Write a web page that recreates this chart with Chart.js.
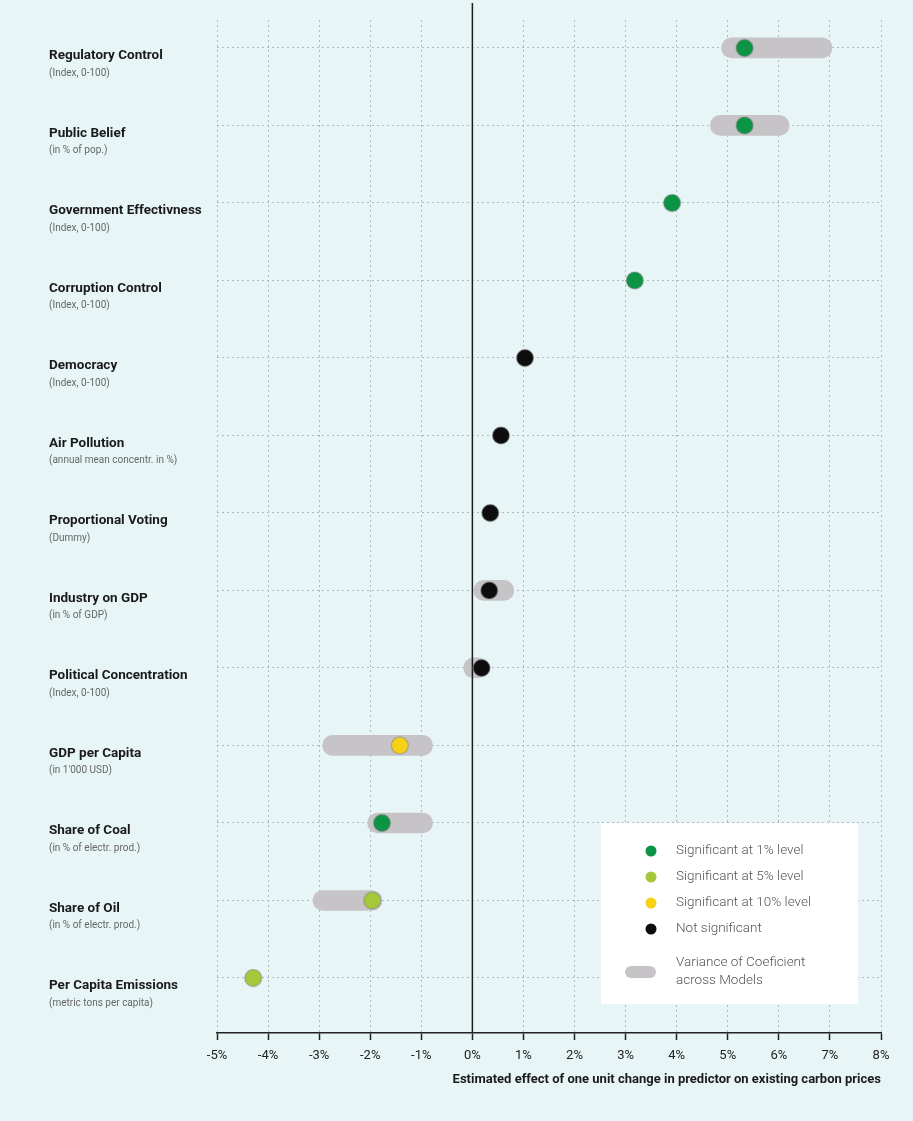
<!DOCTYPE html>
<html>
<head>
<meta charset="utf-8">
<script src="https://cdn.jsdelivr.net/npm/chart.js@4.4.1/dist/chart.umd.min.js"></script>
<style>
  html, body { margin: 0; padding: 0; background: #e8f5f7; }
  #wrap { width: 913px; height: 1121px; position: relative; }
</style>
</head>
<body>
<div id="wrap"><canvas id="coefChart"></canvas></div>
<script>
// Predictors, top to bottom
const categories = [
    'Regulatory Control', 'Public Belief', 'Government Effectivness', 'Corruption Control',
    'Democracy', 'Air Pollution', 'Proportional Voting', 'Industry on GDP',
    'Political Concentration', 'GDP per Capita', 'Share of Coal', 'Share of Oil',
    'Per Capita Emissions'
];
const units = [
    '(Index, 0-100)', '(in % of pop.)', '(Index, 0-100)', '(Index, 0-100)',
    '(Index, 0-100)', '(annual mean concentr. in %)', '(Dummy)', '(in % of GDP)',
    '(Index, 0-100)', "(in 1'000 USD)", '(in % of electr. prod.)', '(in % of electr. prod.)',
    '(metric tons per capita)'
];
// Estimated effect (%), and the spread of the coefficient across models
const coefficients = [5.33, 5.33, 3.91, 3.18, 1.03, 0.56, 0.35, 0.33, 0.18, -1.42, -1.77, -1.96, -4.29];
const rangeLow  = [4.88, 4.66, null, null, null, null, null, 0.03, -0.17, -2.93, -2.05, -3.12, null];
const rangeHigh = [7.04, 6.20, null, null, null, null, null, 0.81,  0.30, -0.78, -0.78, -1.77, null];
const significance = ['1%', '1%', '1%', '1%', 'ns', 'ns', 'ns', 'ns', 'ns', '10%', '1%', '5%', '5%'];

const levels = ['1%', '5%', '10%', 'ns'];
const levelLabels = ['Significant at 1% level', 'Significant at 5% level', 'Significant at 10% level', 'Not significant'];
const levelColors = ['#0b9444', '#a5c83b', '#f6d116', '#0d0d0d'];
const rangeLabel = ['Variance of Coeficient', 'across Models'];

const xTicks = [-5, -4, -3, -2, -1, 0, 1, 2, 3, 4, 5, 6, 7, 8];
const xTitle = 'Estimated effect of one unit change in predictor on existing carbon prices';

const FONT = 'Roboto, "Liberation Sans", Arial, sans-serif';
const GRID = '#aebbbe';
const BAR_GRAY = '#c6c4c6';

// vertical zero line, drawn above the range bars but under the dots
const zeroLine = {
    id: 'zeroLine',
    afterDatasetDraw(chart, args) {
        if (args.index !== 0) return;
        const ctx = chart.ctx;
        const x = chart.scales.x.getPixelForValue(0);
        ctx.save();
        ctx.strokeStyle = '#1c1c1c';
        ctx.lineWidth = 1.5;
        ctx.beginPath();
        ctx.moveTo(x, 3);
        ctx.lineTo(x, chart.chartArea.bottom);
        ctx.stroke();
        ctx.restore();
    }
};

// predictor names with their units underneath
const rowLabels = {
    id: 'rowLabels',
    afterDraw(chart) {
        const ctx = chart.ctx;
        const y = chart.scales.y;
        ctx.save();
        ctx.textAlign = 'left';
        ctx.textBaseline = 'middle';
        categories.forEach((name, i) => {
            const py = y.getPixelForValue(i);
            ctx.fillStyle = '#1a1a1a';
            ctx.font = 'bold 13.5px ' + FONT;
            ctx.fillText(name, 49, py + 8);
            ctx.fillStyle = '#666';
            ctx.font = '10px ' + FONT;
            ctx.fillText(units[i], 49, py + 25.5);
        });
        ctx.restore();
    }
};

// white legend box in the lower right corner
const boxLegend = {
    id: 'boxLegend',
    afterDraw(chart) {
        const ctx = chart.ctx;
        const area = chart.chartArea;
        const right = area.right - 23, bottom = area.bottom - 29;
        const left = right - 257, top = bottom - 181;
        ctx.save();
        ctx.fillStyle = '#ffffff';
        ctx.fillRect(left, top, right - left, bottom - top);
        ctx.font = '300 13.5px ' + FONT;
        ctx.textAlign = 'left';
        ctx.textBaseline = 'middle';
        levels.forEach((lv, i) => {
            const cy = top + 28 + i * 26;
            ctx.fillStyle = levelColors[i];
            ctx.beginPath();
            ctx.arc(left + 50, cy, 5.5, 0, Math.PI * 2);
            ctx.fill();
            ctx.fillStyle = '#555';
            ctx.fillText(levelLabels[i], left + 75, cy);
        });
        const by = top + 149;
        ctx.fillStyle = BAR_GRAY;
        ctx.beginPath();
        ctx.roundRect(left + 24, by - 6, 31, 12, 6);
        ctx.fill();
        ctx.fillStyle = '#555';
        ctx.fillText(rangeLabel[0], left + 75, by - 9);
        ctx.fillText(rangeLabel[1], left + 75, by + 9);
        ctx.restore();
    }
};

const rangeData = categories.map((c, i) =>
    rangeLow[i] === null ? { y: i, x: null } : { y: i, x: [rangeLow[i], rangeHigh[i]] });

const dotSets = levels.map((lv, k) => ({
    type: 'scatter',
    label: levelLabels[k],
    data: categories.map((c, i) => ({ x: coefficients[i], y: i })).filter((p, i) => significance[i] === lv),
    backgroundColor: levelColors[k],
    borderColor: 'rgba(130,130,130,0.45)',
    borderWidth: 1.5,
    pointRadius: 8.5,
    order: 0
}));

new Chart(document.getElementById('coefChart'), {
    type: 'bar',
    data: {
        datasets: [{
            type: 'bar',
            label: 'Variance of Coeficient across Models',
            data: rangeData,
            backgroundColor: BAR_GRAY,
            barThickness: 20,
            borderRadius: 10,
            borderSkipped: false,
            order: 1
        }, ...dotSets]
    },
    options: {
        indexAxis: 'y',
        responsive: true,
        maintainAspectRatio: false,
        animation: false,
        layout: { padding: { left: 217, right: 32, top: 20, bottom: 30 } },
        plugins: { legend: { display: false }, tooltip: { enabled: false } },
        scales: {
            x: {
                type: 'linear',
                position: 'bottom',
                min: xTicks[0],
                max: xTicks[xTicks.length - 1],
                afterBuildTicks: s => { s.ticks = xTicks.map(v => ({ value: v })); },
                afterFit: s => { s.height = 58; },
                ticks: {
                    color: '#222',
                    font: { family: FONT, size: 13 },
                    padding: 8,
                    callback: v => v + '%'
                },
                grid: { color: GRID, lineWidth: 1, tickLength: 7, tickColor: '#222', tickWidth: 1.5 },
                border: { display: true, color: '#222', width: 1.5, dash: [2, 3] },
                title: {
                    display: true,
                    text: xTitle,
                    align: 'end',
                    color: '#1a1a1a',
                    font: { family: FONT, size: 13, weight: 'bold' },
                    padding: { top: 2, bottom: 3 }
                }
            },
            y: {
                type: 'linear',
                reverse: true,
                offset: false,
                min: -0.36,
                max: 12.71,
                afterBuildTicks: s => { s.ticks = categories.map((c, i) => ({ value: i })); },
                afterFit: s => { s.width = 0; },
                ticks: { display: false },
                grid: { color: GRID, lineWidth: 1, drawTicks: false, offset: false },
                border: { display: false, dash: [2, 3] }
            }
        }
    },
    plugins: [zeroLine, rowLabels, boxLegend]
});
</script>
</body>
</html>
